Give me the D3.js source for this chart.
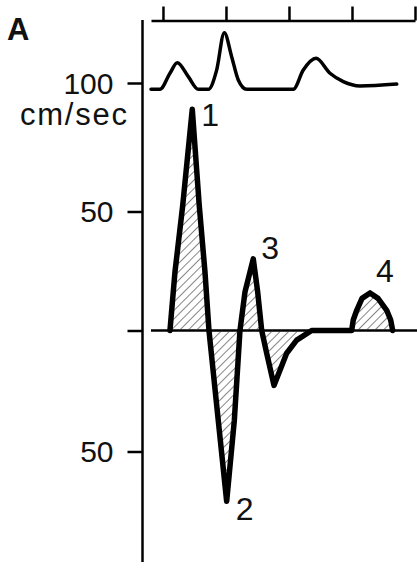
<!DOCTYPE html>
<html>
<head>
<meta charset="utf-8">
<script src="https://cdn.jsdelivr.net/npm/d3@7"></script>
<style>
  html, body { margin: 0; padding: 0; background: #fff; }
  svg { display: block; }
  text { font-family: "Liberation Sans", Arial, Helvetica, sans-serif; fill: #111; }
</style>
</head>
<body>
<svg id="chart" width="417" height="568"></svg>
<script>
// ---- data (time in ms, velocity in cm/sec) ----
const mainTime = [11.1, 19.0, 31.3, 46.5, 57.6, 66.7, 73.0, 87.8, 101.1, 113.2, 122.2, 130.2, 143.3, 150.3, 156.7, 164.6, 176.2, 196.3, 212.2, 236.0, 299.5, 302.0, 307.5, 315.9, 328.6, 341.3, 355.1, 361.4, 364.6];
const mainVel  = [0, 24.5, 52.3, 89.8, 52.3, 24.5, 0, -37.3, -70.6, -37.3, 0, 16.2, 30.1, 16.2, 0, -9.4, -22.7, -9.4, -4.0, 0, 0, 4.4, 8.5, 13.5, 15.8, 13.5, 8.5, 4.4, 0];

const topTime = [-19, -4.8, 11.1, 22.7, 40.2, 56.0, 71.9, 85.2, 97.3, 109.0, 119.5, 132.9, 206.8, 222.7, 242.9, 265.1, 286.2, 312.7, 371.0];
const topVel  = [0, 0, 6.7, 11.1, 5.25, 0, 0, 8.0, 23.6, 13.6, 3.9, 0, 0, 8.0, 12.9, 6.7, 3.2, 1.4, 2.2];

const timeTicks = [0, 100, 200, 300, 400];
const velTicks = [100, 50, 0, -50];
const velTickLabels = ["100", "50", "", "50"];

const peakLabels = ["1", "2", "3", "4"];
const peakTime = [46.5, 101.1, 143.3, 328.6];
const peakVel = [89.8, -70.6, 30.1, 15.8];

const panelLabel = "A";
const unitLabel = "cm/sec";

// ---- layout ----
const W = 417, H = 568;
const svg = d3.select("#chart");

const x = d3.scaleLinear().domain([-19, 400]).range([151, 415]);
// piecewise scale matching the drawn tick spacing
const y = d3.scaleLinear().domain([-50, 0, 50, 100]).range([451.5, 330.5, 211.5, 83]);
const yTop = d3.scaleLinear().domain([0, 25]).range([89.3, 29.3]);

const axisX = 142.5;

// hatch pattern
const defs = svg.append("defs");
const pat = defs.append("pattern")
  .attr("id", "hatch")
  .attr("patternUnits", "userSpaceOnUse")
  .attr("width", 6).attr("height", 6)
  .attr("patternTransform", "rotate(45)");
pat.append("line")
  .attr("x1", 0).attr("y1", 0).attr("x2", 0).attr("y2", 6)
  .attr("stroke", "#333").attr("stroke-width", 1.2);

// ---- top time axis ----
const gTop = svg.append("g").attr("transform", "translate(0,20.5)")
  .call(d3.axisTop(x).tickValues(timeTicks).tickSizeInner(14).tickSizeOuter(0).tickFormat(""));
gTop.select(".domain").attr("stroke", "#000").attr("stroke-width", 2.5);
gTop.selectAll(".tick line").attr("stroke", "#000").attr("stroke-width", 2.5);

// ---- left velocity axis ----
const gLeft = svg.append("g").attr("transform", `translate(${axisX},0)`)
  .call(d3.axisLeft(y).tickValues(velTicks).tickSizeInner(15).tickSizeOuter(0).tickPadding(14)
    .tickFormat((d, i) => velTickLabels[i]));
gLeft.select(".domain").remove();
gLeft.selectAll(".tick line").attr("stroke", "#000").attr("stroke-width", 2.5);
gLeft.selectAll(".tick text")
  .attr("font-size", 30)
  .attr("font-family", "Liberation Sans, Arial, sans-serif")
  .attr("fill", "#111")
  .attr("dy", "0.34em");
gLeft.append("line")
  .attr("x1", 0).attr("x2", 0).attr("y1", 20).attr("y2", 562)
  .attr("stroke", "#000").attr("stroke-width", 2.5);

// zero baseline
svg.append("line")
  .attr("x1", x.range()[0]).attr("x2", W)
  .attr("y1", y(0)).attr("y2", y(0))
  .attr("stroke", "#000").attr("stroke-width", 2.5);

// ---- main waveform ----
const mainData = mainTime.map((t, i) => ({ t, v: mainVel[i] }));
const area = d3.area().x(d => x(d.t)).y0(y(0)).y1(d => y(d.v)).curve(d3.curveLinear);
svg.append("path").datum(mainData).attr("d", area).attr("fill", "url(#hatch)");
const line = d3.line().x(d => x(d.t)).y(d => y(d.v)).curve(d3.curveLinear);
svg.append("path").datum(mainData).attr("d", line)
  .attr("fill", "none").attr("stroke", "#000").attr("stroke-width", 5.5)
  .attr("stroke-linejoin", "round").attr("stroke-linecap", "round");

// ---- upper trace ----
const topData = topTime.map((t, i) => ({ t, v: topVel[i] }));
const topLine = d3.line().x(d => x(d.t)).y(d => yTop(d.v)).curve(d3.curveMonotoneX);
svg.append("path").datum(topData).attr("d", topLine)
  .attr("fill", "none").attr("stroke", "#000").attr("stroke-width", 3.5)
  .attr("stroke-linejoin", "round").attr("stroke-linecap", "round");

// ---- peak labels ----
const labelOffsets = [[9, 17], [9, 19], [8, 0], [6, -11]];
svg.selectAll("text.peak").data(peakLabels).enter().append("text")
  .attr("class", "peak")
  .attr("x", (d, i) => x(peakTime[i]) + labelOffsets[i][0])
  .attr("y", (d, i) => y(peakVel[i]) + labelOffsets[i][1])
  .attr("font-size", 32)
  .text(d => d);

// ---- text labels ----
svg.append("text").attr("x", 7).attr("y", 40)
  .attr("font-size", 31).attr("font-weight", "bold").text(panelLabel);
svg.append("text").attr("x", 127).attr("y", 125)
  .attr("text-anchor", "end").attr("font-size", 31)
  .attr("textLength", 107).attr("lengthAdjust", "spacing").text(unitLabel);
</script>
</body>
</html>
